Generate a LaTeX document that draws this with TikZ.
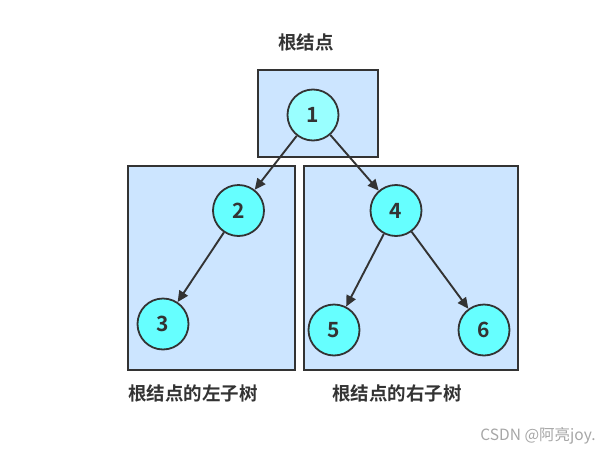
\documentclass[tikz,border=0pt]{standalone}
\usepackage{fontspec}
\setmainfont{Noto Sans CJK SC}
\newfontfamily\cjkb{Noto Sans CJK SC Bold}
\usetikzlibrary{arrows.meta}
\definecolor{edge}{HTML}{333333}
\definecolor{boxfill}{HTML}{CCE5FF}
\definecolor{nodefill}{HTML}{66FFFF}
\definecolor{rootfill}{HTML}{99FFFF}
\tikzset{
  region/.style={draw=edge, line width=2.2pt, fill=boxfill},
  tnode/.style={circle, draw=edge, line width=1.8pt, fill=nodefill, minimum size=51pt, inner sep=0pt, font=\cjkb\fontsize{21}{21}\selectfont, text=edge},
  link/.style={draw=edge, line width=1.9pt, -{Triangle[length=11pt,width=10pt]}},
  caption/.style={font=\cjkb\fontsize{18.5}{18.5}\selectfont, text=edge},
}
\begin{document}
\begin{tikzpicture}[x=1pt,y=-1pt]
\useasboundingbox (0,0) rectangle (611,453);
\path[region] (258,70) rectangle (378,157);
\path[region] (128,166) rectangle (295,370);
\path[region] (304,166) rectangle (518,370);
\node[tnode, fill=rootfill] (n1) at (313,115) {1};
\node[tnode] (n2) at (238.5,210.5) {2};
\node[tnode] (n3) at (163,324) {3};
\node[tnode] (n4) at (396,210.5) {4};
\node[tnode] (n5) at (334,330) {5};
\node[tnode] (n6) at (484,330) {6};
\draw[link] (n1) -- (n2);
\draw[link] (n1) -- (n4);
\draw[link] (n2) -- (n3);
\draw[link] (n4) -- (n5);
\draw[link] (n4) -- (n6);
\node[caption] (t0) at (306,42) {根结点};
\node[caption] (t1) at (193,393) {根结点的左子树};
\node[caption] (t2) at (397,393) {根结点的右子树};
\node[font=\fontsize{15.5}{15.5}\selectfont, text=gray!70] (wm) at (538,436) {CSDN @阿亮joy.};
\end{tikzpicture}
\end{document}
